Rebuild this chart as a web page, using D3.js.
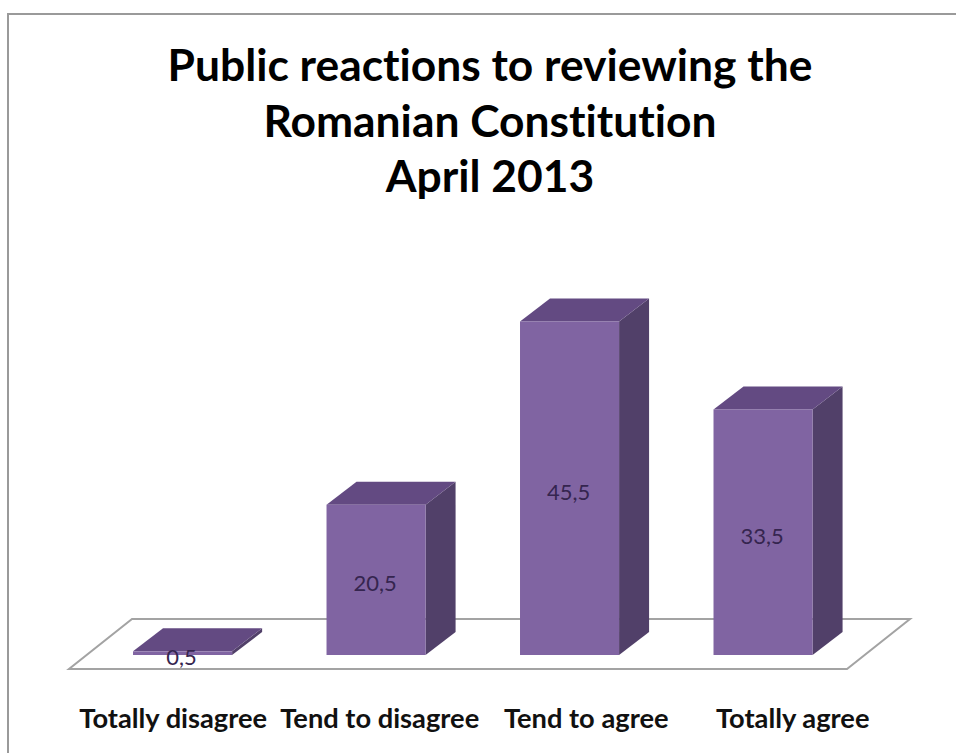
<!DOCTYPE html>
<html>
<head>
<meta charset="utf-8">
<script src="https://cdn.jsdelivr.net/npm/d3@7"></script>
<style>
  html, body { margin: 0; padding: 0; background: #fff; }
  svg { display: block; }
  text { font-variant-ligatures: none; font-feature-settings: "liga" 0, "clig" 0; }
</style>
</head>
<body>
<svg id="chart" width="956" height="753"></svg>
<script>
// ---- data ----
const titleLines = ["Public reactions to reviewing the", "Romanian Constitution", "April 2013"];
const categories = ["Totally disagree", "Tend to disagree", "Tend to agree", "Totally agree"];
const values = [0.5, 20.5, 45.5, 33.5];
const valueLabels = ["0,5", "20,5", "45,5", "33,5"];

// ---- layout ----
const W = 956, H = 753;
const svg = d3.select("#chart");
const FONT = "Lato, 'Open Sans', 'DejaVu Sans', sans-serif";

const colors = { front: "#8064A2", top: "#634A82", side: "#514069", label: "#35254F", floor: "#A3A3A3" };

// outer border
svg.append("rect").attr("x", 8).attr("y", 14).attr("width", W + 20).attr("height", H + 20)
  .attr("fill", "#fff").attr("stroke", "#9a9a9a").attr("stroke-width", 2);

// scales
const baseY = 655;
const y = d3.scaleLinear().domain([0, 50]).range([baseY, 288.5]);
const x = d3.scaleBand().domain(categories).range([38.6, 907]).paddingInner(0.488).paddingOuter(0.488);
const xLabel = d3.scaleBand().domain(categories).range([70, 896]);
const depth = { dx: 30, dy: -23 };

// floor (3D plane)
const floor = { x0: 69, x1: 847, y: 669, dx: 63, dy: -50 };
svg.append("path")
  .attr("d", `M${floor.x0},${floor.y} L${floor.x1},${floor.y} L${floor.x1 + floor.dx},${floor.y + floor.dy} L${floor.x0 + floor.dx},${floor.y + floor.dy} Z`)
  .attr("fill", "#fff").attr("stroke", colors.floor).attr("stroke-width", 2);

// bars
const bars = svg.append("g").selectAll("g").data(categories).join("g");
bars.each(function(c, i) {
  const g = d3.select(this);
  const x0 = x(c), x1 = x(c) + x.bandwidth();
  const yt = y(values[i]), yb = y(0);
  g.append("path")
    .attr("d", `M${x1},${yb} L${x1 + depth.dx},${yb + depth.dy} L${x1 + depth.dx},${yt + depth.dy} L${x1},${yt} Z`)
    .attr("fill", colors.side);
  g.append("path")
    .attr("d", `M${x0},${yt} L${x1},${yt} L${x1 + depth.dx},${yt + depth.dy} L${x0 + depth.dx},${yt + depth.dy} Z`)
    .attr("fill", colors.top);
  g.append("rect").attr("x", x0).attr("y", yt).attr("width", x1 - x0).attr("height", Math.max(0, yb - yt))
    .attr("fill", colors.front);
});

// value labels
svg.append("g").selectAll("text").data(categories).join("text")
  .attr("x", c => x(c) + x.bandwidth() / 2 - 1)
  .attr("y", (c, i) => (y(values[i]) + y(0)) / 2 + 3)
  .attr("dominant-baseline", "central")
  .attr("text-anchor", "middle")
  .attr("font-family", FONT).attr("font-size", 22)
  .attr("fill", colors.label)
  .text((c, i) => valueLabels[i]);

function fitSize(sel, targetWidth) {
  const base = parseFloat(sel.attr("font-size"));
  const w = sel.node().getComputedTextLength();
  return base * targetWidth / w;
}

// category labels
const cat = svg.append("g").selectAll("text").data(categories).join("text")
  .attr("x", c => xLabel(c) + xLabel.bandwidth() / 2)
  .attr("y", 728)
  .attr("text-anchor", "middle")
  .attr("font-family", FONT).attr("font-weight", "bold").attr("font-size", 22)
  .attr("fill", "#111")
  .text(c => c);
cat.attr("font-size", fitSize(cat.filter((d, i) => i === 0), 188));

// title
const titleY = [80.5, 136.5, 192];
const title = svg.append("g").selectAll("text").data(titleLines).join("text")
  .attr("x", 490)
  .attr("y", (d, i) => titleY[i])
  .attr("text-anchor", "middle")
  .attr("font-family", FONT).attr("font-weight", "bold").attr("font-size", 37)
  .attr("fill", "#000")
  .text(d => d);
title.attr("font-size", fitSize(title.filter((d, i) => i === 0), 645));
</script>
</body>
</html>
